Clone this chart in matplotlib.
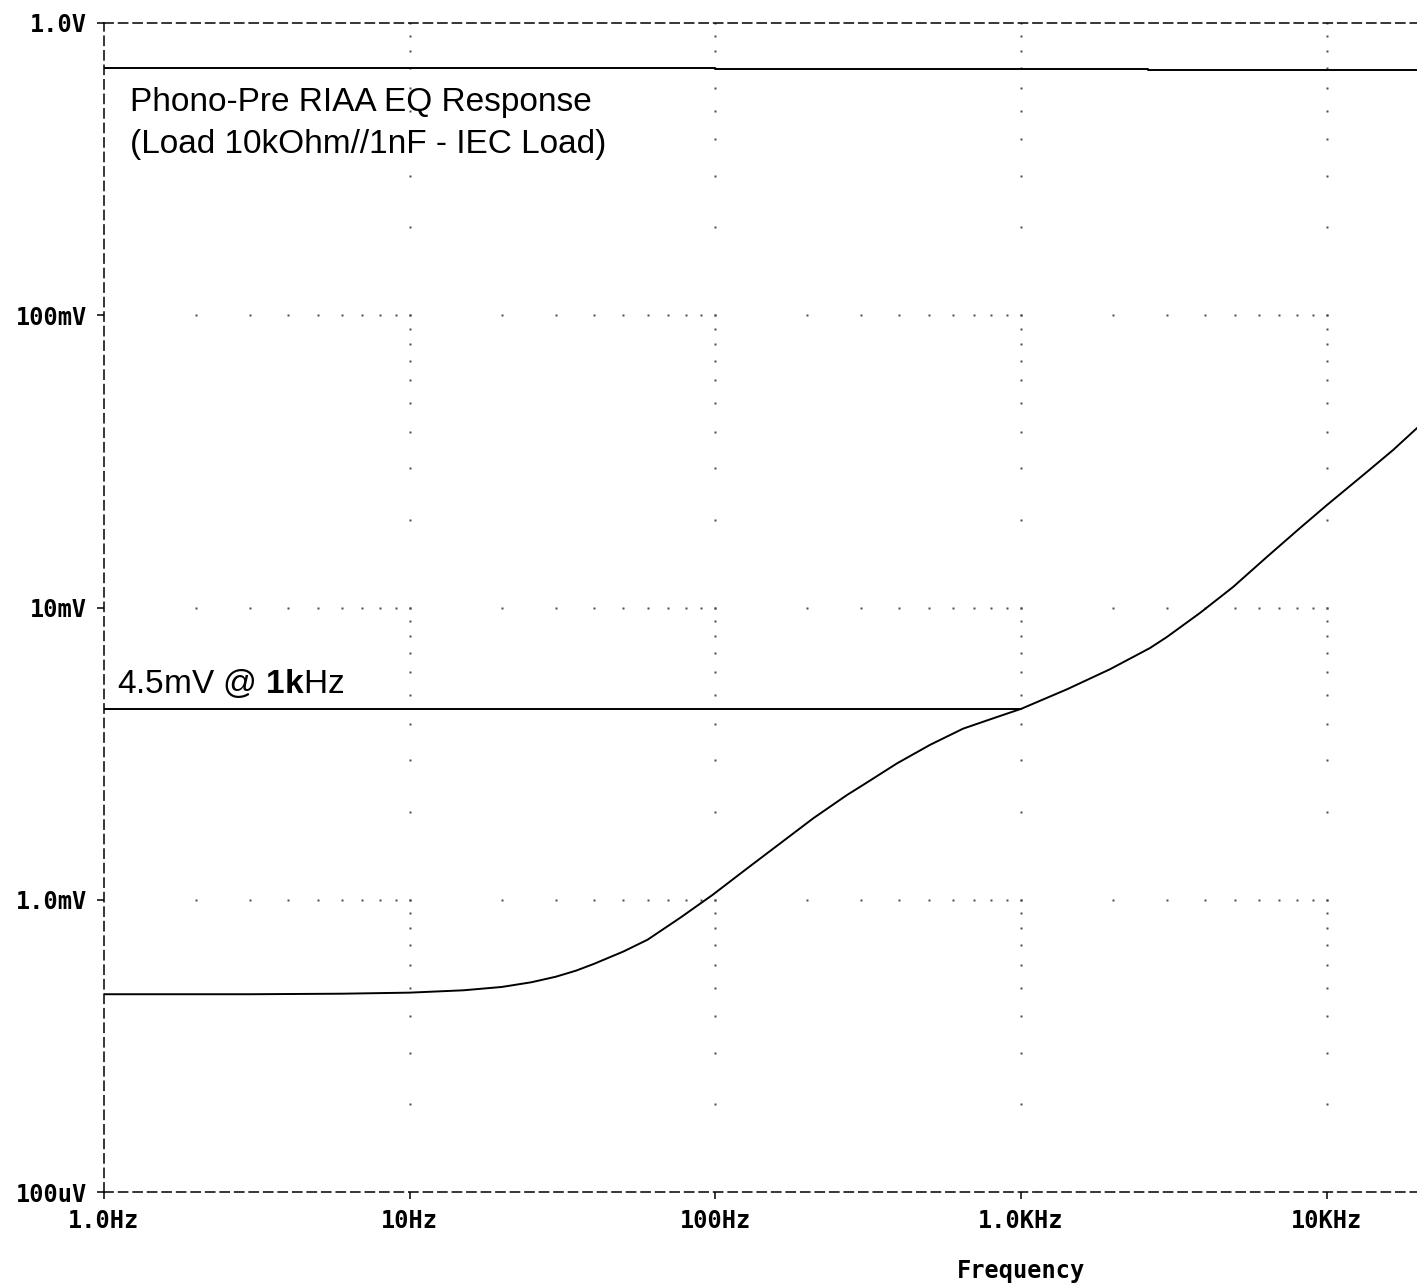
import matplotlib.pyplot as plt
import numpy as np

# response (Hz, mV)
freq = [1, 3, 6, 10, 15, 20, 25, 30, 35, 40, 50, 60, 77, 98, 127, 163, 209, 269, 304,
        393, 504, 646, 834, 1000, 1413, 1954, 2642, 3000, 3847, 4934, 6370, 8170,
        10000, 13530, 16480, 19720]
resp_mv = [0.475, 0.475, 0.477, 0.481, 0.490, 0.503, 0.522, 0.545, 0.572, 0.603,
           0.665, 0.73, 0.87, 1.04, 1.28, 1.56, 1.90, 2.28, 2.47, 2.93, 3.39, 3.85,
           4.22, 4.5, 5.25, 6.15, 7.27, 7.93, 9.58, 11.75, 14.9, 18.7, 22.4, 29.1,
           34.6, 41.1]

# output level trace near the top (V)
top_freq = [1, 100, 2600, 19720]
top_v = [0.70, 0.695, 0.689, 0.689]

ref_level = 4.5e-3
ref_freq = [1, 1000]

xticks = [1, 10, 100, 1000, 10000]
xlabels = ["1.0Hz", "10Hz", "100Hz", "1.0KHz", "10KHz"]
yticks = [1e-4, 1e-3, 1e-2, 1e-1, 1]
ylabels = ["100uV", "1.0mV", "10mV", "100mV", "1.0V"]

W, H = 1417, 1284
fig = plt.figure(figsize=(W / 100, H / 100), dpi=100)
ax = fig.add_axes([104 / W, 1 - 1192 / H, 1 - 104 / W, (1192 - 23) / H])
ax.set_xscale("log")
ax.set_yscale("log")
xmax = 10 ** 4.295
ax.set_xlim(1, xmax)
ax.set_ylim(1e-4, 1)

# dotted grid: dots at minor positions along the major lines
dot = dict(ls="none", marker="s", ms=1.6, color="0.3", mec="none")
minor_x = [k * 10 ** n for n in range(0, 5) for k in range(2, 11) if k * 10 ** n < xmax]
for yv in [1e-3, 1e-2, 1e-1]:
    ax.plot(minor_x, [yv] * len(minor_x), **dot)
minor_y = [k * 10 ** n for n in range(-4, 0) for k in range(2, 11)]
for xv in [10, 100, 1000, 10000]:
    ax.plot([xv] * len(minor_y), minor_y, **dot)

ax.plot(freq, np.array(resp_mv) * 1e-3, color="black", lw=1.4)
ax.plot(top_freq, top_v, color="black", lw=1.4, drawstyle="steps-post")
ax.plot(ref_freq, [ref_level, ref_level], color="black", lw=1.4)

for side in ["top", "left", "bottom"]:
    ax.spines[side].set_linestyle((0, (6, 3.5)))
    ax.spines[side].set_linewidth(1.1)
ax.spines["right"].set_visible(False)

mono = dict(family="DejaVu Sans Mono", weight="bold", size=17)
ax.set_xticks(xticks)
ax.set_xticklabels(xlabels, **mono)
ax.set_yticks(yticks)
ax.set_yticklabels(ylabels, **mono)
ax.minorticks_off()
ax.tick_params(length=5, width=1.1, direction="out", pad=7)

sans = dict(family="Liberation Sans", size=24, color="black")
fig.text(130 / W, 1 - 111 / H, "Phono-Pre RIAA EQ Response", **sans)
fig.text(130 / W, 1 - 153 / H, "(Load 10kOhm//1nF - IEC Load)", **sans)
plt.rcParams["mathtext.fontset"] = "custom"
plt.rcParams["mathtext.bf"] = "Liberation Sans:bold"
plt.rcParams["mathtext.rm"] = "Liberation Sans"
fig.text(117 / W, 1 - 693 / H, r"4.5mV @ $\mathbf{1k}$Hz", **sans)

fig.text(1021 / W, 1 - 1283 / H, "Frequency", ha="center", va="bottom", **mono)

fig.savefig("out.png", dpi=100)
